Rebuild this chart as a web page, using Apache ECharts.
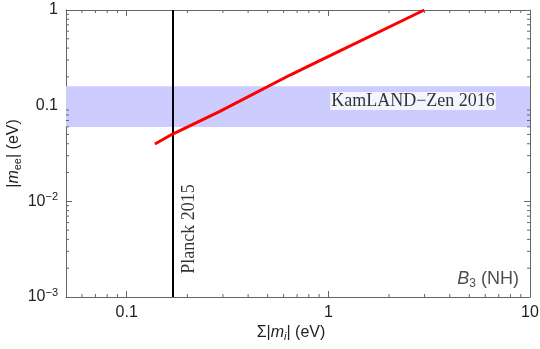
<!DOCTYPE html>
<html>
<head>
<meta charset="utf-8">
<script src="https://cdn.jsdelivr.net/npm/echarts@6/dist/echarts.min.js"></script>
<style>
  html, body { margin: 0; padding: 0; background: #fff; }
  #main { width: 540px; height: 349px; }
</style>
</head>
<body>
<div id="main"></div>
<script>
// sum of masses vs |m_ee|
var sumMass = [0.138, 0.168, 0.288, 0.646, 0.912, 2.99];
var meeVals = [0.0398, 0.0502, 0.0866, 0.209, 0.297, 1.0];

var planckLimit = 0.17;
var kamlandBand = [0.06, 0.16];

var xMinorTicks = [0.06, 0.07, 0.08, 0.09, 0.2, 0.3, 0.4, 0.5, 0.6, 0.7, 0.8, 0.9, 2, 3, 4, 5, 6, 7, 8, 9];
var yMinorTicks = [0.002, 0.003, 0.004, 0.005, 0.006, 0.007, 0.008, 0.009,
                   0.02, 0.03, 0.04, 0.05, 0.06, 0.07, 0.08, 0.09,
                   0.2, 0.3, 0.4, 0.5, 0.6, 0.7, 0.8, 0.9];

var X_MIN = 0.05, X_MAX = 10, Y_MIN = 0.001, Y_MAX = 1;
var axisColor = '#666';
var labelFont = 'Liberation Sans';

var lineData = [];
for (var i = 0; i < sumMass.length; i++) {
	lineData.push([sumMass[i], meeVals[i]]);
}

function isDecade(v) {
	var e = Math.log(v) / Math.LN10;
	return Math.abs(e - Math.round(e)) < 1e-6;
}

function yLabel(v) {
	var e = Math.round(Math.log(v) / Math.LN10);
	if (e === 0) return '1';
	if (e === -1) return '0.1';
	return '{b|10}{s|\u2212' + (-e) + '}';
}

function minorTickItem(horizontal) {
	return function (params, api) {
		var cs = params.coordSys;
		var len = 3;
		var p;
		if (horizontal) {
			p = api.coord([api.value(0), Y_MIN]);
			var yb = cs.y + cs.height, yt = cs.y;
			return {type: 'group', children: [
				{type: 'line', shape: {x1: p[0], y1: yb, x2: p[0], y2: yb - len}, style: {stroke: axisColor, lineWidth: 1}},
				{type: 'line', shape: {x1: p[0], y1: yt, x2: p[0], y2: yt + len}, style: {stroke: axisColor, lineWidth: 1}}
			]};
		}
		p = api.coord([X_MIN, api.value(0)]);
		var xl = cs.x, xr = cs.x + cs.width;
		return {type: 'group', children: [
			{type: 'line', shape: {x1: xl, y1: p[1], x2: xl + len, y2: p[1]}, style: {stroke: axisColor, lineWidth: 1}},
			{type: 'line', shape: {x1: xr, y1: p[1], x2: xr - len, y2: p[1]}, style: {stroke: axisColor, lineWidth: 1}}
		]};
	};
}

var chart = echarts.init(document.getElementById('main'));

var option = {
	animation: false,
	backgroundColor: '#fff',
	grid: {left: 66, right: 10, top: 10, bottom: 52, containLabel: false, outerBoundsMode: 'none'},
	xAxis: [
		{
			type: 'log', logBase: 10, min: X_MIN, max: X_MAX,
			position: 'bottom',
			name: '{n|\u03a3|}{i|m}{sub|i}{n|| (eV)}',
			nameLocation: 'middle', nameGap: 26, nameMoveOverlap: false,
			nameTextStyle: {
				padding: [0, 14, 0, 0],
				rich: {
					n: {fontFamily: labelFont, fontSize: 16, color: '#222'},
					i: {fontFamily: labelFont, fontSize: 16, fontStyle: 'italic', color: '#222'},
					sub: {fontFamily: labelFont, fontSize: 11, fontStyle: 'italic', color: '#222', padding: [8, 0, 0, 0]}
				}
			},
			axisLine: {show: true, onZero: false, lineStyle: {color: axisColor, width: 1}},
			axisTick: {show: true, inside: true, length: 6, lineStyle: {color: axisColor}},
			axisLabel: {
				fontFamily: labelFont, fontSize: 16, color: '#222', margin: 8,
				formatter: function (v) {
					return isDecade(v) ? String(+v.toPrecision(6)) : '';
				}
			},
			splitLine: {show: false}
		},
		{
			type: 'log', logBase: 10, min: X_MIN, max: X_MAX,
			position: 'top',
			axisLine: {show: true, onZero: false, lineStyle: {color: axisColor, width: 1}},
			axisTick: {show: true, inside: true, length: 6, lineStyle: {color: axisColor}},
			axisLabel: {show: false},
			splitLine: {show: false}
		}
	],
	yAxis: [
		{
			type: 'log', logBase: 10, min: Y_MIN, max: Y_MAX,
			position: 'left',
			name: '{n||}{i|m}{sub|ee}{n|| (eV)}',
			nameLocation: 'middle', nameGap: 43, nameRotate: 90, nameMoveOverlap: false,
			nameTextStyle: {
				rich: {
					n: {fontFamily: labelFont, fontSize: 16, color: '#222'},
					i: {fontFamily: labelFont, fontSize: 16, fontStyle: 'italic', color: '#222'},
					sub: {fontFamily: labelFont, fontSize: 11, color: '#222', padding: [8, 0, 0, 0]}
				}
			},
			axisLine: {show: true, onZero: false, lineStyle: {color: axisColor, width: 1}},
			axisTick: {show: true, inside: true, length: 6, lineStyle: {color: axisColor}},
			axisLabel: {
				fontFamily: labelFont, fontSize: 16, color: '#222', margin: 8,
				formatter: yLabel,
				rich: {
					b: {fontFamily: labelFont, fontSize: 16, color: '#222'},
					s: {fontFamily: labelFont, fontSize: 11, color: '#222', padding: [0, 0, 9, 0]}
				}
			},
			splitLine: {show: false}
		},
		{
			type: 'log', logBase: 10, min: Y_MIN, max: Y_MAX,
			position: 'right',
			axisLine: {show: true, onZero: false, lineStyle: {color: axisColor, width: 1}},
			axisTick: {show: true, inside: true, length: 6, lineStyle: {color: axisColor}},
			axisLabel: {show: false},
			splitLine: {show: false}
		}
	],
	series: [
		{
			name: 'band',
			type: 'line',
			data: [],
			silent: true,
			markArea: {
				silent: true,
				itemStyle: {color: 'rgb(204,204,255)'},
				data: [[{yAxis: kamlandBand[0]}, {yAxis: kamlandBand[1]}]]
			}
		},
		{
			name: 'planck',
			type: 'line',
			data: [],
			silent: true,
			markLine: {
				silent: true,
				symbol: ['none', 'none'],
				label: {show: false},
				lineStyle: {color: '#000', width: 2, type: 'solid'},
				data: [{xAxis: planckLimit}]
			}
		},
		{
			name: 'B3',
			type: 'line',
			data: lineData,
			showSymbol: false,
			smooth: false,
			lineStyle: {color: '#ff0000', width: 3},
			z: 5
		},
		{
			type: 'custom',
			data: xMinorTicks,
			renderItem: minorTickItem(true),
			silent: true, clip: false, z: 10
		},
		{
			type: 'custom',
			data: yMinorTicks,
			renderItem: minorTickItem(false),
			silent: true, clip: false, z: 10
		},
		{
			// text labels anchored in data coordinates
			type: 'scatter',
			symbolSize: 0,
			silent: true,
			z: 20,
			data: [
				{
					value: [2.63, 0.112],
					label: {
						show: true, position: 'inside',
						formatter: 'KamLAND\u2212Zen 2016',
						fontFamily: 'Liberation Serif', fontSize: 18, color: '#000',
						backgroundColor: '#fff', padding: [0, 1, 0, 1]
					}
				},
				{
					value: [0.205, 0.00515],
					label: {
						show: true, position: 'inside', rotate: 90,
						formatter: 'Planck 2015',
						fontFamily: 'Liberation Serif', fontSize: 18, color: '#000'
					}
				},
				{
					value: [6.2, 0.00155],
					label: {
						show: true, position: 'inside',
						formatter: '{i|B}{sub|3}{n| (NH)}',
						rich: {
							n: {fontFamily: labelFont, fontSize: 18, color: '#222'},
							i: {fontFamily: labelFont, fontSize: 18, fontStyle: 'italic', color: '#222'},
							sub: {fontFamily: labelFont, fontSize: 12, color: '#222', padding: [9, 0, 0, 0]}
						}
					}
				}
			]
		}
	]
};

chart.setOption(option);
</script>
</body>
</html>
